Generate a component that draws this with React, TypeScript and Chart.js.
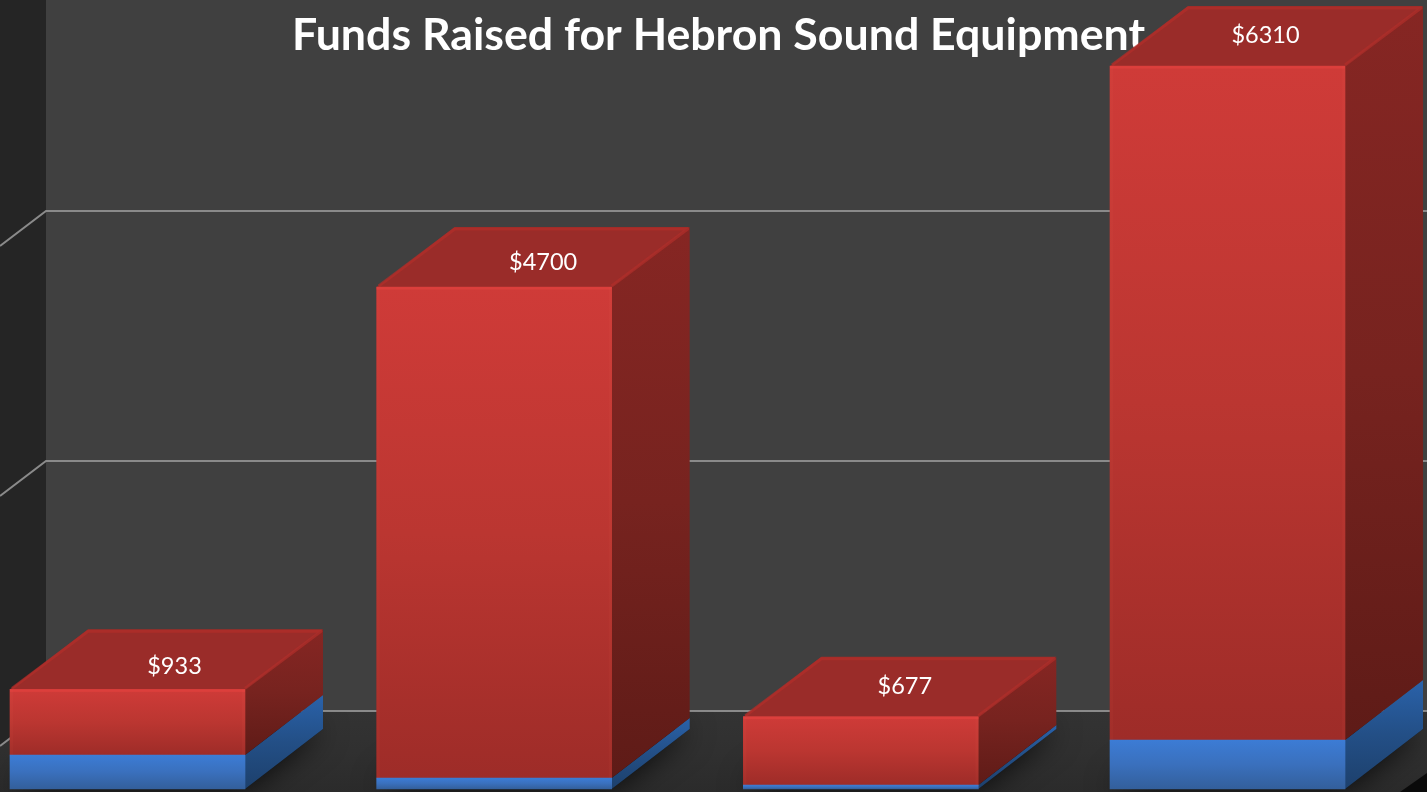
import React, { useEffect, useRef } from "react";
import { Chart, registerables } from "chart.js";

Chart.register(...registerables);

const titleText = "Funds Raised for Hebron Sound Equipment";
const positions = [0, 1, 2, 3];
const blueValues = [318, 103, 37, 459];
const redValues = [615, 4597, 640, 6310];
const topLabels = ["$933", "$4700", "$677", "$6310"];
const gridValues = [0, 2341, 4682];

// Layout constants (pixels)
const W = 1427;
const H = 792;
const DEPTH_X = 78;
const DEPTH_Y = 60;
const WALL_X = 46;
const WALL_FLOOR_Y = 711;
const BASE_Y = 789;
const PX_PER_DOLLAR = 0.1068;
const TITLE_HEIGHT = 58;
const TITLE_SIZE = 44.7;
const BAR_STEP = 366.67;
const FIRST_CENTER = 127.5;
const LEFT_PAD = 10;
const LABEL_OFFSETS = [
  [47, -23],
  [49, -25],
  [44, -30],
  [38, -31],
];

function vGrad(ctx: CanvasRenderingContext2D, y0: number, y1: number, stops: string[]) {
  const g = ctx.createLinearGradient(0, y0, 0, y1);
  stops.forEach((c, i) => g.addColorStop(i / (stops.length - 1), c));
  return g;
}

function barBox(chart: any, ds: number, i: number) {
  const b = chart.getDatasetMeta(ds).data[i].getProps(["x", "y", "base", "width"], true);
  return {
    left: b.x - b.width / 2,
    right: b.x + b.width / 2,
    top: Math.min(b.y, b.base),
    bottom: Math.max(b.y, b.base),
  };
}

function floorPath(ctx: CanvasRenderingContext2D) {
  ctx.beginPath();
  ctx.moveTo(WALL_X, WALL_FLOOR_Y);
  ctx.lineTo(W, WALL_FLOOR_Y);
  ctx.lineTo(W, 773);
  ctx.lineTo(1400, H);
  ctx.lineTo(0, H);
  ctx.lineTo(0, WALL_FLOOR_Y + 35);
  ctx.closePath();
}

const stagePlugin = {
  id: "stage",
  beforeDraw(chart: any) {
    const ctx: CanvasRenderingContext2D = chart.ctx;
    const y = chart.scales.y;
    ctx.save();
    ctx.fillStyle = "#0a0a0a";
    ctx.fillRect(0, 0, W, H);
    // back wall
    ctx.fillStyle = "#404040";
    ctx.fillRect(WALL_X, 0, W - WALL_X, WALL_FLOOR_Y);
    // left wall
    ctx.fillStyle = "#252525";
    ctx.fillRect(0, 0, WALL_X, H);
    // floor
    floorPath(ctx);
    ctx.fillStyle = vGrad(ctx, WALL_FLOOR_Y, H, ["#333333", "#303030", "#2b2b2b"]);
    ctx.fill();
    // grid lines on both walls, from the value scale
    ctx.strokeStyle = "#8a8a8a";
    ctx.lineWidth = 2;
    gridValues.forEach((v) => {
      const py = y.getPixelForValue(v) - (BASE_Y - WALL_FLOOR_Y);
      ctx.beginPath();
      ctx.moveTo(0, py + 35);
      ctx.lineTo(WALL_X, py);
      ctx.lineTo(W, py);
      ctx.stroke();
    });
    ctx.restore();
  },
  beforeDatasetsDraw(chart: any) {
    const ctx: CanvasRenderingContext2D = chart.ctx;
    positions.forEach((_, i) => {
      const blue = barBox(chart, 0, i);
      const red = barBox(chart, 1, i);
      const { left, right } = blue;

      // soft shadow on the floor
      ctx.save();
      floorPath(ctx);
      ctx.clip();
      ctx.shadowColor = "rgba(0,0,0,0.8)";
      ctx.shadowBlur = 30;
      ctx.fillStyle = "#111";
      ctx.beginPath();
      ctx.moveTo(left, blue.bottom);
      ctx.lineTo(right, blue.bottom);
      ctx.lineTo(right + DEPTH_X, blue.bottom - DEPTH_Y);
      ctx.lineTo(left + DEPTH_X, blue.bottom - DEPTH_Y);
      ctx.closePath();
      ctx.fill();
      ctx.restore();

      ctx.save();
      // blue side
      ctx.fillStyle = vGrad(ctx, blue.top - DEPTH_Y, blue.bottom, ["#2a62aa", "#234f86", "#1d406c"]);
      ctx.beginPath();
      ctx.moveTo(right, blue.bottom);
      ctx.lineTo(right + DEPTH_X, blue.bottom - DEPTH_Y);
      ctx.lineTo(right + DEPTH_X, blue.top - DEPTH_Y);
      ctx.lineTo(right, blue.top);
      ctx.closePath();
      ctx.fill();
      // red side
      ctx.fillStyle = vGrad(ctx, red.top - DEPTH_Y, red.bottom, ["#862623", "#77231f", "#5e1b17"]);
      ctx.beginPath();
      ctx.moveTo(right, red.bottom);
      ctx.lineTo(right + DEPTH_X, red.bottom - DEPTH_Y);
      ctx.lineTo(right + DEPTH_X, red.top - DEPTH_Y);
      ctx.lineTo(right, red.top);
      ctx.closePath();
      ctx.fill();
      // top face
      ctx.fillStyle = "#9a2c29";
      ctx.beginPath();
      ctx.moveTo(left, red.top);
      ctx.lineTo(left + DEPTH_X, red.top - DEPTH_Y);
      ctx.lineTo(right + DEPTH_X, red.top - DEPTH_Y);
      ctx.lineTo(right, red.top);
      ctx.closePath();
      ctx.fill();
      // lit bevels of the top face
      ctx.strokeStyle = "rgba(178,46,42,0.7)";
      ctx.lineWidth = 3;
      ctx.lineJoin = "round";
      ctx.beginPath();
      ctx.moveTo(left + 2, red.top - 1);
      ctx.lineTo(left + DEPTH_X, red.top - DEPTH_Y + 2);
      ctx.lineTo(right + DEPTH_X - 2, red.top - DEPTH_Y + 2);
      ctx.lineTo(right, red.top - 1);
      ctx.stroke();
      ctx.restore();
    });
  },
  afterDatasetsDraw(chart: any) {
    const ctx: CanvasRenderingContext2D = chart.ctx;
    ctx.save();
    positions.forEach((_, i) => {
      const red = barBox(chart, 1, i);
      // bright bevel along the front top edge
      ctx.fillStyle = "#dc3f3c";
      ctx.fillRect(red.left, red.top, red.right - red.left, 2.5);
      ctx.fillStyle = "rgba(255,110,100,0.05)";
      ctx.fillRect(red.left, red.top, 3, red.bottom - red.top);
      ctx.fillRect(red.right - 3, red.top, 3, red.bottom - red.top);
      // value label on the top face
      const [dx, dy] = LABEL_OFFSETS[i];
      ctx.fillStyle = "#ffffff";
      ctx.font = "23.5px Lato";
      ctx.textAlign = "center";
      ctx.textBaseline = "middle";
      ctx.fillText(topLabels[i], (red.left + red.right) / 2 + dx, red.top + dy);
    });
    ctx.restore();
  },
};

function toPoints(values: number[]) {
  return values.map((v, i) => ({ x: positions[i], y: v }));
}

function frontFill(stops: string[], low: (i: number) => number, high: (i: number) => number) {
  return (c: any) => {
    const y = c.chart.scales?.y;
    const i = c.dataIndex;
    if (!y || i === undefined) return stops[0];
    const y0 = y.getPixelForValue(high(i));
    const y1 = y.getPixelForValue(low(i));
    if (!Number.isFinite(y0) || !Number.isFinite(y1)) return stops[0];
    return vGrad(c.chart.ctx, y0, y1, stops);
  };
}

export default function App() {
  const ref = useRef<HTMLCanvasElement | null>(null);
  useEffect(() => {
    if (!ref.current) return;
    const chart = new Chart(ref.current, {
      type: "bar",
      plugins: [stagePlugin],
      data: {
        datasets: [
          {
            label: "Blue",
            stack: "a",
            data: toPoints(blueValues),
            backgroundColor: frontFill(["#3c7cd5", "#3a70bd", "#335f9b"], () => 0, (i) => blueValues[i]),
            clip: false,
          },
          {
            label: "Red",
            stack: "a",
            data: toPoints(redValues),
            backgroundColor: frontFill(
              ["#cf3b38", "#bb3631", "#9e2c28"],
              (i) => blueValues[i],
              (i) => blueValues[i] + redValues[i]
            ),
            clip: false,
          },
        ] as any,
      },
      options: {
        responsive: false,
        animation: false,
        devicePixelRatio: 1,
        layout: { padding: { left: LEFT_PAD, right: 0, top: 0, bottom: 0 } },
        barThickness: 235,
        plugins: {
          legend: { display: false },
          tooltip: { enabled: false },
          title: {
            display: true,
            text: titleText,
            color: "#ffffff",
            font: { family: "Lato", size: TITLE_SIZE, weight: "bold", lineHeight: 1 },
            padding: { top: TITLE_HEIGHT - TITLE_SIZE, bottom: 0 },
          },
        },
        scales: {
          x: {
            type: "linear",
            display: false,
            stacked: true,
            offset: false,
            min: (LEFT_PAD - FIRST_CENTER) / BAR_STEP,
            max: (W - FIRST_CENTER) / BAR_STEP,
          },
          y: {
            display: false,
            stacked: true,
            min: -(H - BASE_Y) / PX_PER_DOLLAR,
            max: (BASE_Y - TITLE_HEIGHT) / PX_PER_DOLLAR,
          },
        },
      } as any,
    });
    return () => chart.destroy();
  }, []);
  return (
    <div style={{ position: "fixed", left: 0, top: 0, width: W, height: H, overflow: "hidden" }}>
      <canvas ref={ref} width={W} height={H} style={{ display: "block" }} />
    </div>
  );
}
